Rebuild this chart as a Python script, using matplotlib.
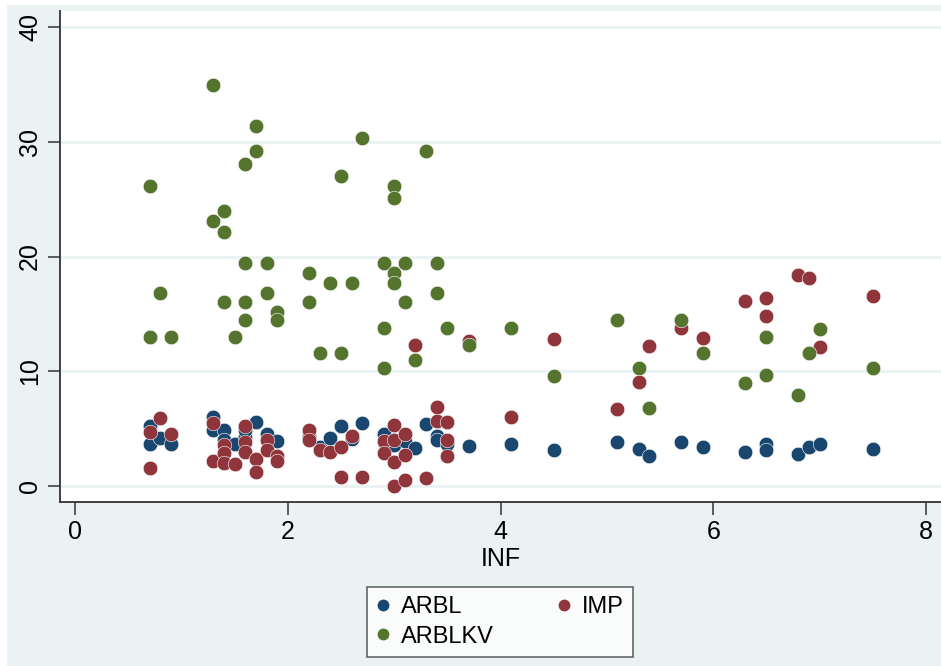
import matplotlib
matplotlib.use("Agg")
import matplotlib.pyplot as plt
from matplotlib.patches import Rectangle
from matplotlib.lines import Line2D

plt.rcParams['font.family'] = ['Liberation Sans', 'DejaVu Sans']

# ---- data ----
arbl_x = [0.7, 0.7, 0.8, 0.9, 1.3, 1.3, 1.4, 1.4, 1.5, 1.6, 1.6, 1.7, 1.8, 1.9,
          2.2, 2.3, 2.4, 2.5, 2.6, 2.7, 2.9, 2.9, 3.0, 3.1, 3.2, 3.3, 3.4, 3.4, 3.5,
          3.7, 4.1, 4.5, 5.1, 5.3, 5.4, 5.7, 5.9, 6.3, 6.5, 6.5, 6.8, 6.9, 7.0, 7.5]
arbl_y = [5.2, 3.7, 4.2, 3.7, 6.0, 4.9, 4.9, 4.0, 3.7, 4.3, 4.9, 5.6, 4.5, 3.9,
          4.3, 3.4, 4.2, 5.2, 4.1, 5.5, 4.5, 3.8, 3.6, 3.9, 3.3, 5.4, 4.4, 4.0, 3.7,
          3.5, 3.7, 3.1, 3.8, 3.2, 2.6, 3.8, 3.4, 3.0, 3.7, 3.1, 2.8, 3.4, 3.7, 3.2]

arblkv_x = [0.7, 0.7, 0.8, 0.9, 1.3, 1.3, 1.4, 1.4, 1.4, 1.5, 1.6, 1.6, 1.6, 1.6,
            1.7, 1.7, 1.8, 1.8, 1.9, 1.9, 2.2, 2.2, 2.3, 2.4, 2.5, 2.5, 2.6, 2.7,
            2.9, 2.9, 2.9, 3.0, 3.0, 3.0, 3.0, 3.1, 3.1, 3.2, 3.3, 3.4, 3.4, 3.5,
            3.7, 4.1, 4.5, 5.1, 5.3, 5.4, 5.7, 5.9, 6.3, 6.5, 6.5, 6.8, 6.9, 7.0, 7.5]
arblkv_y = [26.1, 13.0, 16.8, 13.0, 34.9, 23.1, 24.0, 22.1, 16.0, 13.0, 28.1, 19.4, 16.0, 14.5,
            31.4, 29.2, 19.4, 16.8, 15.2, 14.5, 18.6, 16.0, 11.6, 17.7, 27.0, 11.6, 17.7, 30.3,
            19.4, 13.8, 10.3, 26.1, 25.1, 18.6, 17.7, 19.4, 16.0, 11.0, 29.2, 19.4, 16.8, 13.8,
            12.3, 13.8, 9.6, 14.5, 10.3, 6.8, 14.5, 11.6, 9.0, 13.0, 9.65, 7.9, 11.6, 13.7, 10.3]

imp_x = [0.7, 0.7, 0.8, 0.9, 1.3, 1.3, 1.4, 1.4, 1.4, 1.5, 1.6, 1.6, 1.6, 1.7, 1.7,
         1.8, 1.8, 1.9, 1.9, 2.2, 2.2, 2.3, 2.4, 2.5, 2.5, 2.6, 2.7,
         2.9, 2.9, 3.0, 3.0, 3.0, 3.0, 3.1, 3.1, 3.1, 3.2, 3.3, 3.4, 3.4, 3.5, 3.5, 3.5,
         3.7, 4.1, 4.5, 5.1, 5.3, 5.4, 5.7, 5.9, 6.3, 6.5, 6.5, 6.8, 6.9, 7.0, 7.5]
imp_y = [4.7, 1.6, 5.9, 4.5, 5.5, 2.2, 3.6, 2.9, 2.0, 1.9, 5.2, 3.8, 3.0, 2.4, 1.2,
         4.0, 3.1, 2.6, 2.2, 4.9, 4.0, 3.1, 3.0, 3.4, 0.8, 4.4, 0.8,
         3.9, 2.9, 5.3, 4.0, 2.1, 0.0, 4.5, 2.7, 0.5, 12.3, 0.7, 6.9, 5.7, 5.6, 4.0, 2.6,
         12.6, 6.0, 12.8, 6.7, 9.1, 12.2, 13.8, 12.9, 16.1, 16.4, 14.8, 18.4, 18.1, 12.1, 16.6]

series_names = ["ARBL", "ARBLKV", "IMP"]
x_ticks = [0, 2, 4, 6, 8]
y_ticks = [0, 10, 20, 30, 40]

# ---- style ----
c_arbl = "#1A476F"
c_arblkv = "#55752F"
c_imp = "#90353B"
bg = "#EAF2F3"

W, H = 941, 666
fig = plt.figure(figsize=(W / 100, H / 100), dpi=100)
fig.patch.set_facecolor("white")
fig.add_artist(Rectangle((7 / W, 0), 1 - 7 / W, 1 - 5 / H, transform=fig.transFigure,
                         facecolor=bg, edgecolor="none", zorder=-10))

ax = fig.add_axes([60 / W, 1 - 502 / H, 1 - 60 / W, (502 - 11) / H])
ax.set_facecolor("white")

ms = 110
ax.scatter(arbl_x, arbl_y, s=ms, color=c_arbl, edgecolors="white", linewidths=0.4, zorder=3)
ax.scatter(imp_x, imp_y, s=ms, color=c_imp, edgecolors="white", linewidths=0.4, zorder=4)
ax.scatter(arblkv_x, arblkv_y, s=ms, color=c_arblkv, edgecolors="white", linewidths=0.4, zorder=5)

ax.set_xlim(-0.142, 8.142)
ax.set_ylim(-1.39, 41.39)
ax.set_xticks(x_ticks)
ax.set_yticks(y_ticks)
ax.set_yticklabels([str(t) for t in y_ticks], rotation=90, va="center")
ax.tick_params(axis="both", labelsize=18, length=9, width=1.1, color="#333333", pad=4)
ax.grid(axis="y", color=bg, linewidth=2.2, zorder=0)
ax.set_axisbelow(True)
for s in ["top", "right"]:
    ax.spines[s].set_visible(False)
for s in ["left", "bottom"]:
    ax.spines[s].set_color("#333333")
    ax.spines[s].set_linewidth(1.3)

ax.set_xlabel("INF", fontsize=18, labelpad=2)

handles = [Line2D([], [], marker="o", linestyle="none", markersize=7.5, color=c)
           for c in (c_arbl, c_arblkv, c_imp)]
leg = fig.legend(handles, series_names, ncol=2, loc="center",
                 bbox_to_anchor=(500 / W, 1 - 622 / H), fontsize=17,
                 frameon=True, fancybox=False, edgecolor="#333333",
                 handletextpad=0.45, columnspacing=2.7, labelspacing=0.3,
                 borderpad=0.4, handlelength=0.6, borderaxespad=0)
leg.get_frame().set_linewidth(1.1)
leg.get_frame().set_facecolor("white")

fig.savefig("out.png", dpi=100, facecolor=fig.get_facecolor())
